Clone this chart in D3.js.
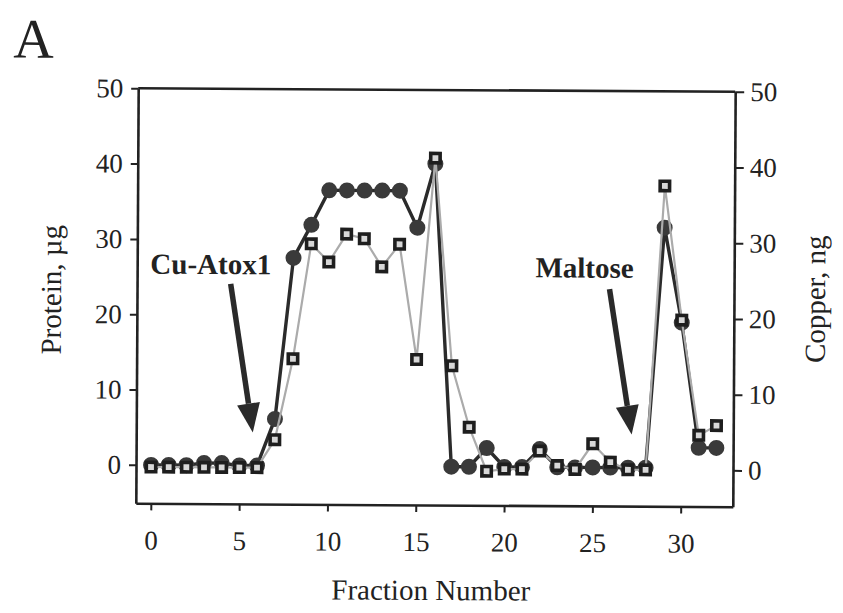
<!DOCTYPE html>
<html>
<head>
<meta charset="utf-8">
<script src="https://cdn.jsdelivr.net/npm/d3@7/dist/d3.min.js"></script>
<style>
  body { margin: 0; background: #fff; }
  text { font-family: "Liberation Serif", "Times New Roman", serif; fill: #222; }
</style>
</head>
<body>
<div id="chart"></div>
<script>
// fraction numbers (x) and the two measured series
var fractions = [0,1,2,3,4,5,6,7,8,9,10,11,12,13,14,15,16,17,18,19,20,21,22,23,24,25,26,27,28,29,30,31,32];
var protein = [0,0,0,0.3,0.3,0,0,6.2,27.6,32,36.6,36.6,36.6,36.6,36.6,31.7,40.2,0,0,2.5,0,0,2.4,0,0,0,0,0,0,31.9,19.3,2.7,2.7];
var copper  = [0,0,0,0,0,0,0,3.7,14.4,29.6,27.2,30.9,30.3,26.6,29.6,14.4,41.0,13.6,5.5,-0.3,0,0,2.4,0.5,0,3.4,1.0,0,0,37.5,19.8,4.6,5.9];

var xTicks = [0,5,10,15,20,25,30];
var yTicks = [0,10,20,30,40,50];

// arrows: label anchor, arrow start and tip, in data units (fraction, protein)
var notes = [
  {label: "Cu-Atox1", tx: -0.1, ty: 25.4, x1: 4.45, y1: 24.1, x2: 5.75, y2: 4.4},
  {label: "Maltose",  tx: 21.7, ty: 25.2, x1: 25.9, y1: 23.7, x2: 27.2, y2: 4.4}
];

var W = 843, H = 613;
var pL = 137, pR = 734, pT = 90, pB = 505;

var svg = d3.select("#chart").append("svg")
    .attr("width", W)
    .attr("height", H);

var g = svg.append("g")
    .attr("transform", "rotate(0.33,435,297)");

var x = d3.scaleLinear().domain([-0.85, 32.95]).range([pL, pR]);
var yL = d3.scaleLinear().domain([-5.1, 50]).range([pB, pT]);
var yR = d3.scaleLinear().domain([-4.8, 50]).range([pB, pT]);

// panel letter
g.append("text")
    .attr("x", 12).attr("y", 60)
    .style("font-size", "56px")
    .text("A");

// axes
var axL = g.append("g")
    .attr("transform", "translate(" + pL + ",0)")
    .call(d3.axisLeft(yL).tickValues(yTicks).tickSize(7).tickSizeOuter(0).tickPadding(8));
var axR = g.append("g")
    .attr("transform", "translate(" + pR + ",0)")
    .call(d3.axisRight(yR).tickValues(yTicks).tickSize(9).tickSizeOuter(0).tickPadding(6));
var axB = g.append("g")
    .attr("transform", "translate(0," + pB + ")")
    .call(d3.axisBottom(x).tickValues(xTicks).tickSize(7).tickSizeOuter(0).tickPadding(20));

[axL, axR, axB].forEach(function(a) {
  a.select(".domain").attr("stroke", "#222").attr("stroke-width", 2.6);
  a.selectAll(".tick line").attr("stroke", "#222").attr("stroke-width", 2);
  a.selectAll(".tick text")
    .style("font-family", "'Liberation Serif', serif")
    .style("font-size", "27px")
    .attr("fill", "#222");
});

g.append("line")
    .attr("x1", pL).attr("x2", pR)
    .attr("y1", pT).attr("y2", pT)
    .attr("stroke", "#222").attr("stroke-width", 2.6);

// axis titles
g.append("text")
    .attr("transform", "translate(61,292) rotate(-90)")
    .attr("text-anchor", "middle")
    .style("font-size", "29px")
    .text("Protein, \u00b5g");

g.append("text")
    .attr("transform", "translate(825,297) rotate(-90)")
    .attr("text-anchor", "middle")
    .style("font-size", "29px")
    .text("Copper, ng");

g.append("text")
    .attr("x", (pL + pR) / 2 - 3).attr("y", 600)
    .attr("text-anchor", "middle")
    .style("font-size", "29px")
    .text("Fraction Number");

// series
var lineP = d3.line()
    .x(function(d, i) { return x(fractions[i]); })
    .y(function(d) { return yL(d); });
var lineC = d3.line()
    .x(function(d, i) { return x(fractions[i]); })
    .y(function(d) { return yR(d); });

g.append("path")
    .datum(protein)
    .attr("d", lineP)
    .attr("fill", "none")
    .attr("stroke", "#2b2b2b")
    .attr("stroke-width", 3.4);

g.selectAll(".dot")
    .data(protein)
    .enter()
    .append("circle")
    .attr("class", "dot")
    .attr("r", 8)
    .attr("cx", function(d, i) { return x(fractions[i]); })
    .attr("cy", function(d) { return yL(d); })
    .attr("fill", "#3a3a3a");

g.append("path")
    .datum(copper)
    .attr("d", lineC)
    .attr("fill", "none")
    .attr("stroke", "#ababab")
    .attr("stroke-width", 2.2);

var sq = 13;
g.selectAll(".sq")
    .data(copper)
    .enter()
    .append("rect")
    .attr("class", "sq")
    .attr("width", sq - 3.6).attr("height", sq - 3.6)
    .attr("x", function(d, i) { return x(fractions[i]) - (sq - 3.6) / 2; })
    .attr("y", function(d) { return yR(d) - (sq - 3.6) / 2; })
    .attr("fill", "#d8d8d8")
    .attr("stroke", "#1e1e1e")
    .attr("stroke-width", 3.6);

// annotations
notes.forEach(function(n) {
  g.append("text")
      .attr("x", x(n.tx)).attr("y", yL(n.ty))
      .style("font-size", "29px")
      .style("font-weight", "bold")
      .attr("fill", "#1c241e")
      .text(n.label);

  var sx = x(n.x1), sy = yL(n.y1), ex = x(n.x2), ey = yL(n.y2);
  var ang = Math.atan2(ey - sy, ex - sx);
  var headLen = 29, headW = 11.5;
  var bx = ex - headLen * Math.cos(ang), by = ey - headLen * Math.sin(ang);
  var px = -Math.sin(ang), py = Math.cos(ang);

  g.append("line")
      .attr("x1", sx).attr("y1", sy)
      .attr("x2", bx).attr("y2", by)
      .attr("stroke", "#2a2a2a")
      .attr("stroke-width", 5.5);

  g.append("path")
      .attr("d", "M" + ex + "," + ey +
                 "L" + (bx + px * headW) + "," + (by + py * headW) +
                 "L" + (bx - px * headW) + "," + (by - py * headW) + "Z")
      .attr("fill", "#2a2a2a");
});
</script>
</body>
</html>
